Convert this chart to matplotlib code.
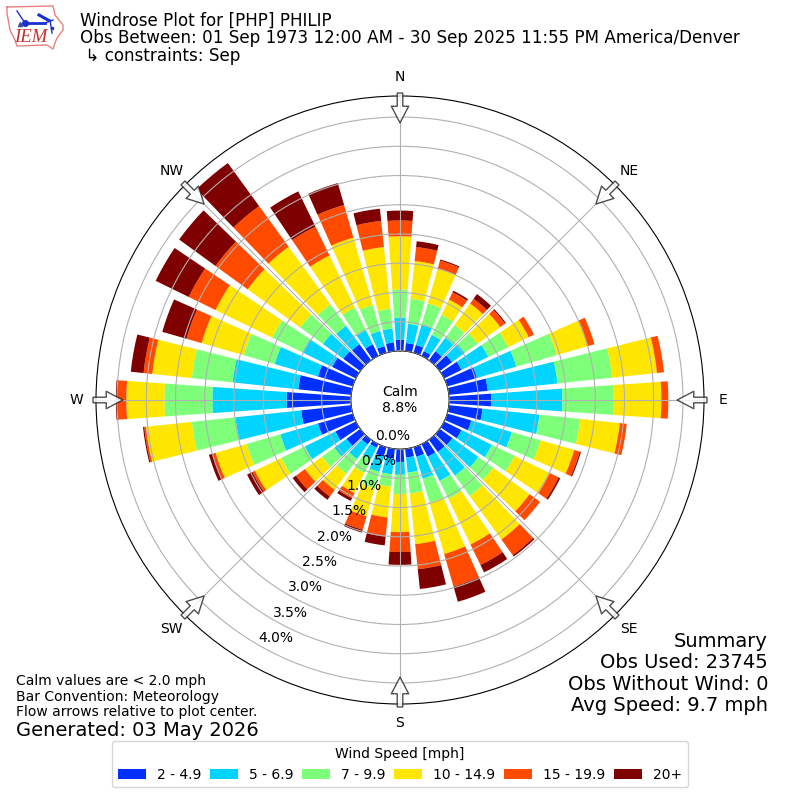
import matplotlib
matplotlib.use("Agg")
import matplotlib.pyplot as plt
import numpy as np

directions = list(range(0, 360, 10))
speed_labels = ["2 - 4.9", "5 - 6.9", "7 - 9.9", "10 - 14.9", "15 - 19.9", "20+"]
speed_colors = ["#0030FF", "#00D4FF", "#7DFF7A", "#FFE600", "#FF4A00", "#7F0000"]

# percent of obs per direction bin, 0 deg (N) going clockwise
speed_2_5 = [.19, .14, .14, .09, .19, .26, .33, .53, .67, .72, .58, .43, .33, .27, .26, .24, .17, .15,
             .22, .17, .17, .07, .10, .29, .39, .62, .86, 1.10, .91, .62, .45, .36, .34, .22, .12, .15]
speed_5_7 = [.38, .33, .36, .31, .29, .27, .51, .70, 1.20, 1.22, .98, .72, .58, .55, .50, .46, .39, .26,
             .22, .27, .27, .22, .31, .26, .58, .67, 1.13, 1.27, 1.13, .77, .57, .43, .39, .27, .27, .24]
speed_7_10 = [.48, .43, .38, .38, .27, .27, .38, .72, .94, .87, .70, .51, .43, .31, .43, .34, .43, .36,
              .33, .21, .29, .26, .31, .26, .45, .60, .75, .82, .70, .55, .57, .48, .45, .43, .46, .34]
speed_10_15 = [.91, .65, .62, .29, .45, .48, .39, .55, .77, .82, .68, .60, .67, .77, .92, .87, .91, .87,
               .65, .53, .50, .38, .34, .36, .50, .55, .79, .65, .68, .75, 1.08, 1.11, 1.22, .99, 1.20, 1.06]
speed_15_20 = [.27, .24, .14, .14, .10, .10, .10, .12, .12, .12, .12, .10, .17, .22, .33, .39, .58, .43,
               .34, .33, .24, .10, .14, .19, .05, .05, .03, .15, .15, .27, .51, .68, .86, .55, .58, .45]
speed_20_up = [.17, .10, .02, .03, .10, .02, 0, 0, 0, 0, 0, .02, .03, 0, .03, .14, .27, .34,
               .22, .15, .05, .05, .07, .07, .10, .07, .02, .03, .22, .43, .63, .77, .91, .67, .39, .21]
speed_series = [speed_2_5, speed_5_7, speed_7_10, speed_10_15, speed_15_20, speed_20_up]

compass_deg = [0, 45, 90, 135, 180, 225, 270, 315]
compass_labels = ["N", "NE", "E", "SE", "S", "SW", "W", "NW"]
r_ticks = [0, .5, 1, 1.5, 2, 2.5, 3, 3.5, 4]

title_lines = ["Windrose Plot for [PHP] PHILIP",
               "Obs Between: 01 Sep 1973 12:00 AM - 30 Sep 2025 11:55 PM America/Denver",
               " \u21b3 constraints: Sep"]
summary_text = "Summary\nObs Used: 23745\nObs Without Wind: 0\nAvg Speed: 9.7 mph"
notes_text = "Calm values are < 2.0 mph\nBar Convention: Meteorology\nFlow arrows relative to plot center."

# iowa outline and station model for the logo, pixel coords of the logo box
logo_outline_x = [7, 53, 55, 63, 63, 57, 55, 53, 47, 17, 15, 10, 7, 7]
logo_outline_y = [7, 6, 15, 25, 30, 38, 43, 49, 45, 46, 40, 30, 13, 7]

fig = plt.figure(figsize=(8, 8), dpi=100)
ax = fig.add_axes([96 / 800, 96 / 800, 608 / 800, 608 / 800], projection="polar")
ax.set_theta_zero_location("N")
ax.set_theta_direction(-1)
ax.set_rorigin(-0.84)
ax.set_rlim(0, 4.36)
ax.set_axisbelow(False)

theta = np.radians(directions)
bottom = np.zeros(len(directions))
bars = []
for values, label, color in zip(speed_series, speed_labels, speed_colors):
    b = ax.bar(theta, values, width=np.radians(8), bottom=bottom, color=color, label=label, zorder=1.5)
    bars.append(b)
    bottom = bottom + np.array(values)

ax.set_xticks(np.radians(compass_deg))
ax.set_xticklabels(compass_labels, fontsize=10)
ax.tick_params(axis="x", pad=3.5)
ax.set_yticks(r_ticks)
ax.set_yticklabels(["%.1f%%" % r for r in r_ticks], fontsize=10)
ax.set_rlabel_position(210)
ax.grid(True, color="#b0b0b0", lw=0.8, zorder=2)

# flow arrows pointing in from the edge
for deg in compass_deg:
    ax.annotate("", xy=(np.radians(deg), 3.90), xytext=(np.radians(deg), 4.41),
                arrowprops=dict(width=4, headwidth=12.5, headlength=12, facecolor="white",
                                edgecolor="#222222", lw=1, alpha=0.8, shrink=0),
                annotation_clip=False, zorder=5)

fig.text(0.5, 0.5, "Calm\n8.8%", ha="center", va="center", fontsize=10)
title_y = [20.5, 38, 56]
for y, line in zip(title_y, title_lines):
    fig.text(80 / 800, 1 - y / 800, line, fontsize=12.03, va="center")
fig.text(768 / 800, 1 - 673.5 / 800, summary_text, ha="right", va="center", fontsize=14, linespacing=1.17)
fig.text(16 / 800, 1 - 696.5 / 800, notes_text, ha="left", va="center", fontsize=10, linespacing=1.1)
fig.text(16 / 800, 1 - 730 / 800, "Generated: 03 May 2026", ha="left", va="center", fontsize=14)

fig.legend(handles=[b[0] for b in bars], labels=speed_labels, title="Wind Speed [mph]",
           loc="lower center", bbox_to_anchor=(0.5, 0.007), ncol=6, fontsize=10, title_fontsize=10,
           handlelength=2, columnspacing=0.63)

# simple stand-in for the IEM logo
logo_blue = "#1a2fd0"
logo = fig.add_axes([0, 1 - 60 / 800, 80 / 800, 60 / 800])
logo.set_xlim(0, 80)
logo.set_ylim(60, 0)
logo.axis("off")
logo.plot(logo_outline_x, logo_outline_y, color="#e88080", lw=1)
logo.plot([25, 45], [23, 23], color=logo_blue, lw=2)
logo.plot([45, 53], [23, 20], color=logo_blue, lw=1)
logo.plot([17, 25], [11, 23], color=logo_blue, lw=1)
logo.plot([39, 48], [15, 20], color=logo_blue, lw=2.2)
logo.plot([50, 52], [20, 33], color=logo_blue, lw=1)
logo.plot([25], [23], "o", color=logo_blue, ms=4)
logo.plot([20], [24], "^", color="#4050a0", ms=3)
logo.plot([52], [28], "o", color=logo_blue, ms=1.5)
logo.text(31, 37.5, "IEM", color="#c83030", fontsize=13.5, style="italic", family="Liberation Serif",
          ha="center", va="center")

plt.savefig("out.png", dpi=100)
plt.close()
